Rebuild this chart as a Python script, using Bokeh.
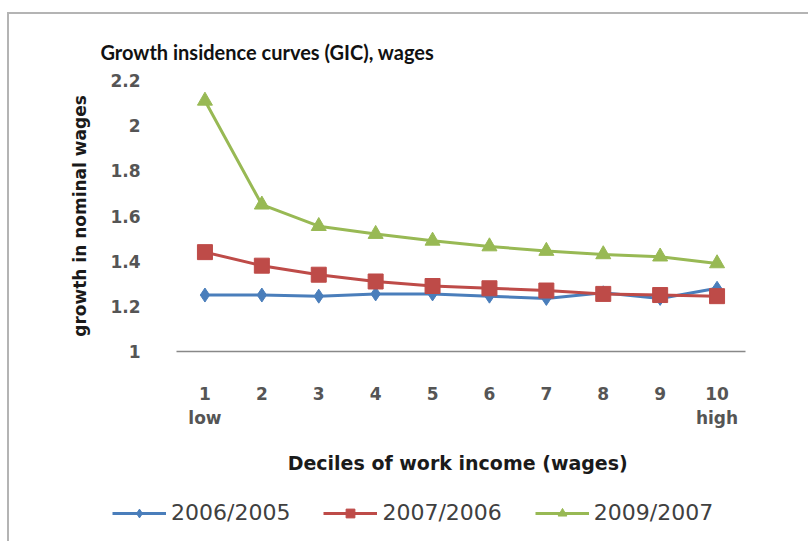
from bokeh.plotting import figure
from bokeh.models import Legend, LegendItem, FixedTicker, Range1d
from bokeh.embed import file_html
from bokeh.resources import INLINE

deciles = [1, 2, 3, 4, 5, 6, 7, 8, 9, 10]
tick_labels = {1: "1\nlow", 10: "10\nhigh"}
s2006 = [1.25, 1.25, 1.245, 1.255, 1.255, 1.245, 1.235, 1.26, 1.235, 1.28]
s2007 = [1.44, 1.38, 1.34, 1.31, 1.29, 1.28, 1.27, 1.255, 1.25, 1.245]
s2009 = [2.11, 1.65, 1.555, 1.52, 1.49, 1.465, 1.445, 1.43, 1.42, 1.39]
names = ["2006/2005", "2007/2006", "2009/2007"]
y_ticks = [1, 1.2, 1.4, 1.6, 1.8, 2, 2.2]

TFONT = "Lato"
FONT = "DejaVu Sans"
BORDER = "2px solid #b4b4b4"
p = figure(width=801, height=479, output_backend="svg", toolbar_location=None,
           x_range=(0.5, 10.5), y_range=(1, 2.2),
           frame_width=569, frame_height=271,
           min_border_left=167, min_border_right=65, min_border_top=66, min_border_bottom=142)
p.margin = (12, 0, 0, 7)
p.styles = {"border-top": BORDER, "border-left": BORDER}
p.outline_line_color = None
p.grid.visible = False

p.title.text = "Growth insidence curves (GIC), wages"
p.title.text_font = TFONT
p.title.text_font_size = "20px"
p.title.text_font_style = "bold"
p.title.text_color = "#111111"
p.title.align = "left"
p.title.offset = -76
p.title.standoff = 33

# x axis
xa = p.xaxis[0]
xa.ticker = FixedTicker(ticks=deciles)
xa.major_label_overrides = tick_labels
xa.major_tick_line_color = None
xa.minor_tick_line_color = None
xa.axis_line_color = "#888888"
xa.axis_line_width = 1.5
xa.major_label_text_font = FONT
xa.major_label_text_font_size = "17px"
xa.major_label_text_font_style = "bold"
xa.major_label_text_color = "#555555"
xa.major_label_standoff = 26
xa.axis_label = "Deciles of work income  (wages)"
xa.axis_label_text_font = FONT
xa.axis_label_text_font_size = "19px"
xa.axis_label_text_font_style = "bold"
xa.axis_label_text_color = "#1a1a1a"
xa.axis_label_standoff = 21

ya = p.yaxis[0]
ya.ticker = FixedTicker(ticks=y_ticks)
ya.major_label_overrides = {1: "1", 2: "2"}
ya.axis_line_color = None
ya.major_tick_line_color = None
ya.minor_tick_line_color = None
ya.major_label_text_font = FONT
ya.major_label_text_font_size = "17px"
ya.major_label_text_font_style = "bold"
ya.major_label_text_color = "#555555"
ya.major_label_standoff = 30
ya.axis_label = "growth in nominal wages"
ya.axis_label_text_font = FONT
ya.axis_label_text_font_size = "17px"
ya.axis_label_text_font_style = "bold"
ya.axis_label_text_color = "#1a1a1a"
ya.axis_label_standoff = 17

colors = ["#4a7ebb", "#be4b48", "#98b954"]
markers = ["diamond", "square", "triangle"]
msizes = [14, 15, 15]
series = [s2006, s2007, s2009]
for vals, c, m, ms in zip(series, colors, markers, msizes):
    p.line(deciles, vals, color=c, line_width=3)
    p.scatter(deciles, vals, marker=m, size=ms, color=c)

# legend strip below the chart (separate root, so its frame spans the full width);
# key renderers use the series data but lie outside this strip's ranges
lf = figure(width=801, height=48, output_backend="svg", toolbar_location=None,
            x_range=Range1d(0, 1), y_range=Range1d(-1, 0),
            x_axis_type=None, y_axis_type=None, min_border=0)
lf.margin = (0, 0, 0, 7)
lf.styles = {"border-left": BORDER}
lf.outline_line_color = None
lf.grid.visible = False
items = []
for name, vals, c, m, ms in zip(names, series, colors, markers, msizes):
    rl = lf.line(deciles, vals, color=c, line_width=3)
    rm = lf.scatter(deciles, vals, marker=m, size=ms, color=c)
    items.append(LegendItem(label=name, renderers=[rl, rm]))
legend = Legend(items=items, orientation="horizontal", location=(103, 16),
                label_text_font=FONT, label_text_font_size="22px", label_text_color="#404040",
                border_line_color=None, background_fill_alpha=0, spacing=33,
                glyph_width=54, glyph_height=22, label_standoff=5, padding=0, margin=0)
lf.add_layout(legend, "center")

open("out.html", "w").write(file_html([p, lf], INLINE))
